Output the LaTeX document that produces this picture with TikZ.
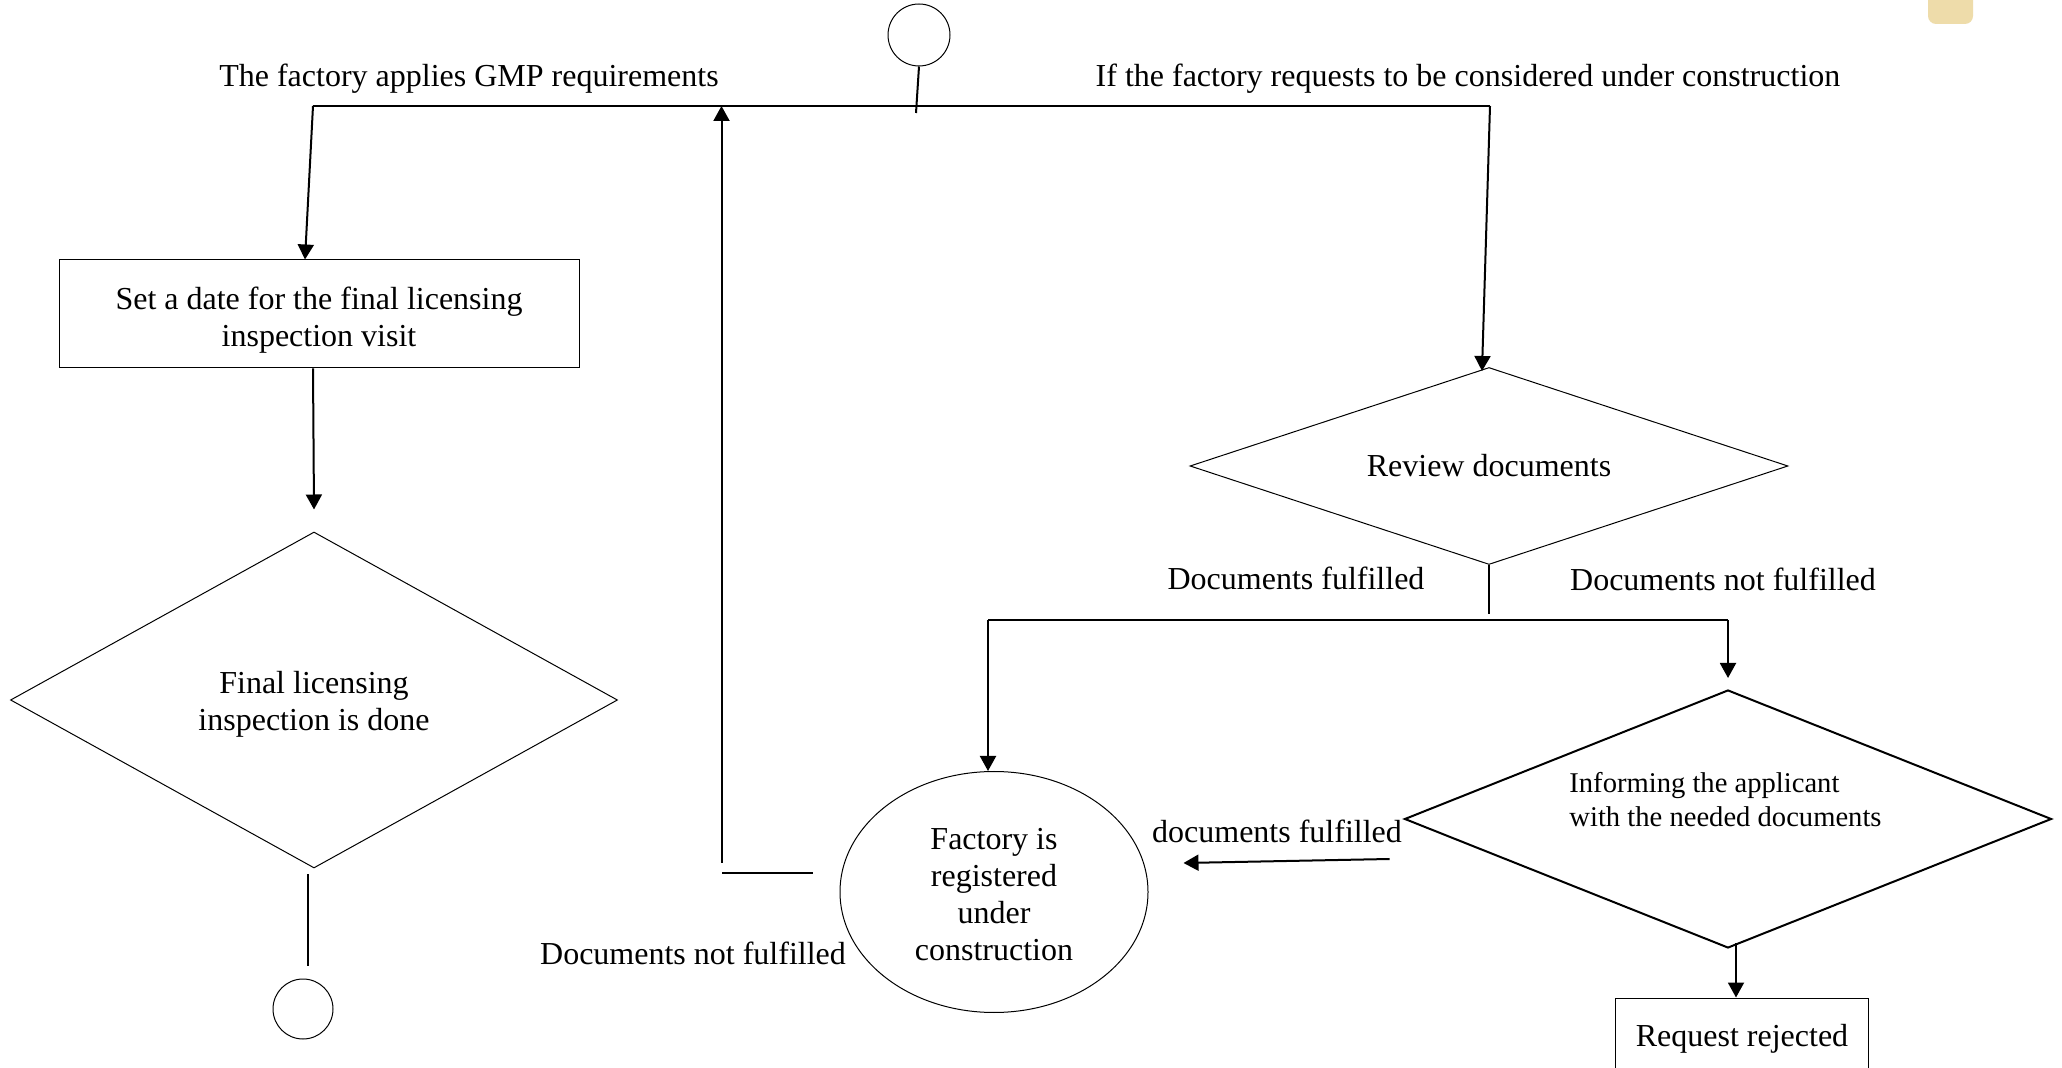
\documentclass[tikz,border=0pt]{standalone}
\usepackage{fontspec}
\setmainfont{Liberation Serif}
\usetikzlibrary{shapes.geometric,arrows.meta}
\definecolor{tabcol}{RGB}{238,220,170}
\begin{document}
\begin{tikzpicture}[x=0.5pt,y=-0.5pt,
		txt/.style={font=\fontsize{16}{18.5}\selectfont, inner sep=0pt, align=center},
		flowbox/.style={draw, line width=0.5pt, txt},
		decision/.style={draw, diamond, line width=0.5pt, txt},
		terminal/.style={draw, circle, line width=0.5pt, minimum size=31pt, inner sep=0pt},
		link/.style={line width=1pt},
		arr/.style={link, -{Triangle[length=7.5pt,width=8pt]}}]
		\clip (0,0) rectangle (2062,1068);
		\fill [white] (0,0) rectangle (2062,1068);
		\fill [tabcol, rounded corners=4pt] (1928,-12) rectangle (1973,24);
		% shapes
		\node [terminal] (start) at (919,35) {};
		\node [flowbox, minimum width=260pt, minimum height=54pt,
			label={[txt,yshift=-3.25pt]center:{Set a date for the final licensing\\inspection visit}}] (setdate) at (319,314) {};
		\node [decision, minimum width=303.5pt, minimum height=168pt,
			label={[txt,yshift=-2pt]center:{Final licensing\\inspection is done}}] (finalcheck) at (314,700) {};
		\node [terminal, minimum size=30pt] (finish) at (303,1009) {};
		\node [decision, aspect=3, minimum width=299pt, minimum height=98.5pt] (review) at (1489,466) {Review documents};
		\node [draw, ellipse, line width=0.5pt, minimum width=154pt, minimum height=120.5pt,
			label={[txt,yshift=-1.5pt]center:{Factory is\\registered\\under\\construction}}] (registered) at (994,892) {};
		\node [decision, line width=1pt, minimum width=323.5pt, minimum height=129pt] (inform) at (1728,819) {};
		\node [txt, font=\fontsize{14.3}{17}\selectfont, align=left, anchor=west] (informtext) at (1569,800) {Informing the applicant\\with the needed documents};
		\node [flowbox, minimum width=126.5pt, minimum height=37pt,
			label={[txt,yshift=-2pt]center:Request rejected}] (rejected) at (1742,1035) {};
		% labels
		\node [txt] (gmplabel) at (469,79) {The factory applies GMP requirements};
		\node [txt] (constrlabel) at (1468,79) {If the factory requests to be considered under construction};
		\node [txt] (oklabel) at (1296,578) {Documents fulfilled};
		\node [txt] (notoklabel) at (1723,579) {Documents not fulfilled};
		\node [txt] (backoklabel) at (1277,831) {documents fulfilled};
		\node [txt] (backnotlabel) at (693,953) {Documents not fulfilled};
		% connectors
		\coordinate (tl) at (313,106);
		\coordinate (tr) at (1490,106);
		\coordinate (tm) at (916,113);
		\draw [link] (tl) -- (tr);
		\draw [link] (start.south) -- (tm);
		\draw [arr] (tl) -- ([xshift=-7pt]setdate.north);
		\draw [arr] ([xshift=-3pt]setdate.south) -- ([yshift=11pt]finalcheck.north);
		\draw [link] ([xshift=-3pt,yshift=-3pt]finalcheck.south) -- ([xshift=2.5pt,yshift=6.5pt]finish.north);
		\draw [arr] (tr) -- ([xshift=-3.5pt,yshift=-2pt]review.north);
		\draw [link] (review.south) -- ++(0,49);
		\coordinate (bl) at (988,620);
		\coordinate (br) at (1728,620);
		\draw [link] (bl) -- (br);
		\draw [arr] (bl) -- (bl |- registered.north);
		\draw [arr] (br) -- ([yshift=5.5pt]inform.north);
		\coordinate (rj) at ([xshift=4pt,yshift=3pt]inform.south);
		\draw [arr] (rj) -- (rj |- rejected.north);
		\draw [arr] ([xshift=-7pt,yshift=-20pt]inform.west) -- ([xshift=17.5pt,yshift=14.5pt]registered.east);
		\draw [link] ([xshift=-13.5pt,yshift=9.5pt]registered.west) -- ++(-91,0) coordinate (loopc);
		\draw [arr] ([yshift=5pt]loopc) -- (loopc |- tl);
\end{tikzpicture}
\end{document}
